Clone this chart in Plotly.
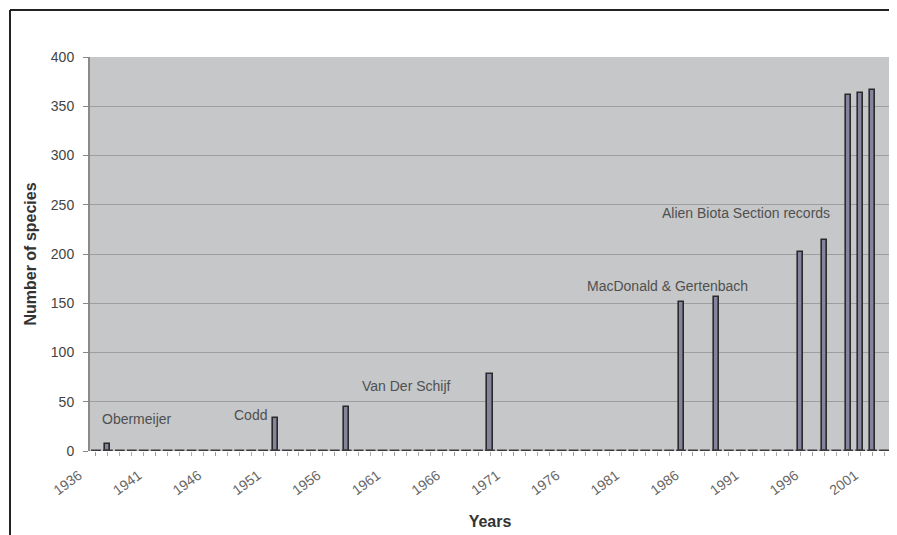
import plotly.graph_objects as go

# ---- data ----
record_years = [1937, 1951, 1957, 1969, 1985, 1988, 1995, 1997, 1999, 2000, 2001]
species_counts = [7, 34, 45, 78, 151, 156, 202, 214, 361, 363, 366]

all_years = list(range(1936, 2003))
baseline = [0] * len(all_years)

tick_years = list(range(1936, 2002, 5))
tick_labels = [str(y) for y in tick_years]

sources = ["Obermeijer", "Codd", "Van Der Schijf", "MacDonald & Gertenbach",
           "Alien Biota Section records"]
source_x = [1939.4, 1948.9, 1962.0, 1983.9, 1990.4]
source_y = [33, 37, 66, 168, 242]

fig = go.Figure()

# zero-value categories shown as short dashes on the baseline
fig.add_trace(go.Scatter(
    x=all_years, y=baseline, mode="markers",
    marker=dict(symbol="line-ew", size=7, line=dict(width=3, color="#3a3a3a")),
    hoverinfo="skip", showlegend=False,
))

fig.add_trace(go.Bar(
    x=record_years, y=species_counts, width=0.42,
    marker=dict(color="#84849f", line=dict(color="#2a2a2a", width=1.6)),
    showlegend=False,
))

for t, xx, yy in zip(sources, source_x, source_y):
    fig.add_annotation(x=xx, y=yy, text=t, showarrow=False,
                       font=dict(family="Liberation Sans, Arial", size=14, color="#505050"),
                       xanchor="center", yanchor="middle")

# outer frame (top and left edges)
fig.add_shape(type="line", xref="paper", yref="paper",
              x0=-0.1, x1=1.02, y0=1.1193, y1=1.1193,
              line=dict(color="#222222", width=2))
fig.add_shape(type="line", xref="paper", yref="paper",
              x0=-0.1, x1=-0.1, y0=1.1193, y1=-0.25,
              line=dict(color="#222222", width=2))

fig.update_layout(
    width=889, height=527,
    margin=dict(l=82, r=7, t=49, b=84),
    paper_bgcolor="white",
    plot_bgcolor="#c5c7c9",
    bargap=0,
    font=dict(family="Liberation Sans, Arial", color="#333333"),
    xaxis=dict(
        range=[1935.5, 2002.5],
        tickmode="array", tickvals=tick_years, ticktext=tick_labels,
        tickangle=-36, ticklabelshift=-17, ticklabelstandoff=6,
        tickfont=dict(size=14, color="#666666"),
        ticks="outside", ticklen=4, tickcolor="#9a9a9a",
        minor=dict(dtick=1, tick0=1936, ticks="outside", ticklen=4, tickcolor="#aaaaaa",
                   showgrid=False),
        showgrid=False, zeroline=False,
        showline=False,
        title=dict(text="<b>Years</b>", font=dict(size=16, color="#333333"), standoff=18),
    ),
    yaxis=dict(
        range=[0, 400], dtick=50,
        tickfont=dict(size=14, color="#444444"),
        ticks="outside", ticklen=5, tickcolor="#888888",
        ticklabelstandoff=6,
        showgrid=True, gridcolor="#9c9ea0", gridwidth=1,
        zeroline=False,
        showline=True, linecolor="#8a8a8a", linewidth=2, mirror=False,
        title=dict(text="<b>Number of species</b>", font=dict(size=16, color="#333333"),
                   standoff=10),
    ),
)

fig.write_html("out.html")
